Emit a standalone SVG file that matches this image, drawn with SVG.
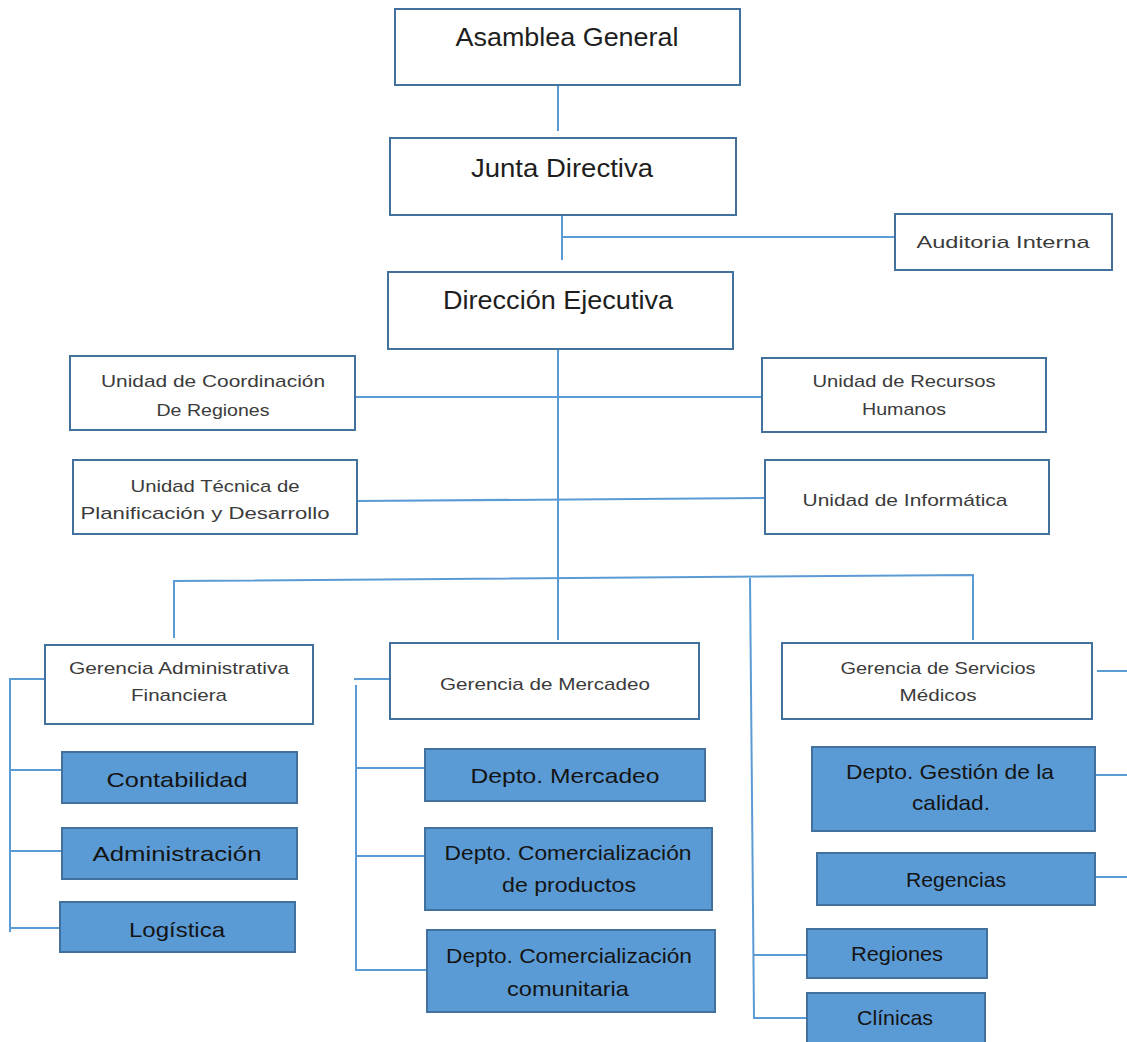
<svg xmlns="http://www.w3.org/2000/svg" width="1127" height="1042" viewBox="0 0 1127 1042">
<style>
.w{fill:#ffffff;stroke:#41719c;stroke-width:2}
.b{fill:#5b9bd5;stroke:#41719c;stroke-width:2}
.c{fill:none;stroke:#5b9bd5;stroke-width:2}
text{font-family:"Liberation Sans",Arial,sans-serif;text-anchor:middle}
.t1{font-size:25px;fill:#1e1e1e}
.t2{font-size:17px;fill:#3b3b3b}
.t3{font-size:21px;fill:#141414}
</style>
<rect width="1127" height="1042" fill="#ffffff"/>
<g id="connectors">
<path class="c" d="M558 85V131"/>
<path class="c" d="M562 215V260M562 237H895"/>
<path class="c" d="M558 349V576"/>
<path class="c" d="M355 397H762"/>
<path class="c" d="M357 501L765 498"/>
<path class="c" d="M174 638V581L973 575V640"/>
<path class="c" d="M558 576V640"/>
<path class="c" d="M750 578L754 1018H807"/>
<path class="c" d="M754 955H807"/>
<path class="c" d="M45 679H10V932M10 770H62M10 851H62M10 928H60"/>
<path class="c" d="M390 679H354M356 685V970H427M356 768H425M356 856H425"/>
<path class="c" d="M1097 671H1127M1095 775H1127M1095 877H1127"/>
</g>
<g id="asamblea"><rect class="w" x="395" y="9" width="345" height="76"/><text class="t1" x="567" y="46" textLength="223" lengthAdjust="spacingAndGlyphs">Asamblea General</text></g>
<g id="junta"><rect class="w" x="390" y="138" width="346" height="77"/><text class="t1" x="562" y="177" textLength="182" lengthAdjust="spacingAndGlyphs">Junta Directiva</text></g>
<g id="auditoria"><rect class="w" x="895" y="214" width="217" height="56"/><text class="t2" x="1003" y="248" textLength="173" lengthAdjust="spacingAndGlyphs">Auditoria Interna</text></g>
<g id="direccion"><rect class="w" x="388" y="272" width="345" height="77"/><text class="t1" x="558" y="309" textLength="230" lengthAdjust="spacingAndGlyphs">Dirección Ejecutiva</text></g>
<g id="coordinacion"><rect class="w" x="70" y="356" width="285" height="74"/><text class="t2" x="213" y="387" textLength="224" lengthAdjust="spacingAndGlyphs">Unidad de Coordinación</text><text class="t2" x="213" y="416" textLength="113" lengthAdjust="spacingAndGlyphs">De Regiones</text></g>
<g id="rrhh"><rect class="w" x="762" y="358" width="284" height="74"/><text class="t2" x="904" y="387" textLength="183" lengthAdjust="spacingAndGlyphs">Unidad de Recursos</text><text class="t2" x="904" y="415" textLength="84" lengthAdjust="spacingAndGlyphs">Humanos</text></g>
<g id="tecnica"><rect class="w" x="73" y="460" width="284" height="74"/><text class="t2" x="215" y="492" textLength="169" lengthAdjust="spacingAndGlyphs">Unidad Técnica de</text><text class="t2" x="205" y="519" textLength="249" lengthAdjust="spacingAndGlyphs">Planificación y Desarrollo</text></g>
<g id="informatica"><rect class="w" x="765" y="460" width="284" height="74"/><text class="t2" x="905" y="506" textLength="205" lengthAdjust="spacingAndGlyphs">Unidad de Informática</text></g>
<g id="gaf"><rect class="w" x="45" y="645" width="268" height="79"/><text class="t2" x="179" y="674" textLength="220" lengthAdjust="spacingAndGlyphs">Gerencia Administrativa</text><text class="t2" x="179" y="701" textLength="96" lengthAdjust="spacingAndGlyphs">Financiera</text></g>
<g id="gm"><rect class="w" x="390" y="643" width="309" height="76"/><text class="t2" x="545" y="690" textLength="210" lengthAdjust="spacingAndGlyphs">Gerencia de Mercadeo</text></g>
<g id="gsm"><rect class="w" x="782" y="643" width="310" height="76"/><text class="t2" x="938" y="674" textLength="195" lengthAdjust="spacingAndGlyphs">Gerencia de Servicios</text><text class="t2" x="938" y="701" textLength="77" lengthAdjust="spacingAndGlyphs">Médicos</text></g>
<g id="contabilidad"><rect class="b" x="62" y="752" width="235" height="51"/><text class="t3" x="177" y="787" textLength="141" lengthAdjust="spacingAndGlyphs">Contabilidad</text></g>
<g id="administracion"><rect class="b" x="62" y="828" width="235" height="51"/><text class="t3" x="177" y="861" textLength="169" lengthAdjust="spacingAndGlyphs">Administración</text></g>
<g id="logistica"><rect class="b" x="60" y="902" width="235" height="50"/><text class="t3" x="177" y="937" textLength="96" lengthAdjust="spacingAndGlyphs">Logística</text></g>
<g id="deptomercadeo"><rect class="b" x="425" y="749" width="280" height="52"/><text class="t3" x="565" y="783" textLength="189" lengthAdjust="spacingAndGlyphs">Depto. Mercadeo</text></g>
<g id="comprod"><rect class="b" x="425" y="828" width="287" height="82"/><text class="t3" x="568" y="860" textLength="247" lengthAdjust="spacingAndGlyphs">Depto. Comercialización</text><text class="t3" x="569" y="892" textLength="134" lengthAdjust="spacingAndGlyphs">de productos</text></g>
<g id="comcom"><rect class="b" x="427" y="930" width="288" height="82"/><text class="t3" x="569" y="963" textLength="246" lengthAdjust="spacingAndGlyphs">Depto. Comercialización</text><text class="t3" x="568" y="996" textLength="122" lengthAdjust="spacingAndGlyphs">comunitaria</text></g>
<g id="calidad"><rect class="b" x="812" y="747" width="283" height="84"/><text class="t3" x="950" y="779" textLength="208" lengthAdjust="spacingAndGlyphs">Depto. Gestión de la</text><text class="t3" x="951" y="810" textLength="78" lengthAdjust="spacingAndGlyphs">calidad.</text></g>
<g id="regencias"><rect class="b" x="817" y="853" width="278" height="52"/><text class="t3" x="956" y="887" textLength="100" lengthAdjust="spacingAndGlyphs">Regencias</text></g>
<g id="regiones"><rect class="b" x="807" y="929" width="180" height="49"/><text class="t3" x="897" y="961" textLength="92" lengthAdjust="spacingAndGlyphs">Regiones</text></g>
<g id="clinicas"><rect class="b" x="807" y="993" width="178" height="50"/><text class="t3" x="895" y="1025" textLength="76" lengthAdjust="spacingAndGlyphs">Clínicas</text></g>
</svg>
